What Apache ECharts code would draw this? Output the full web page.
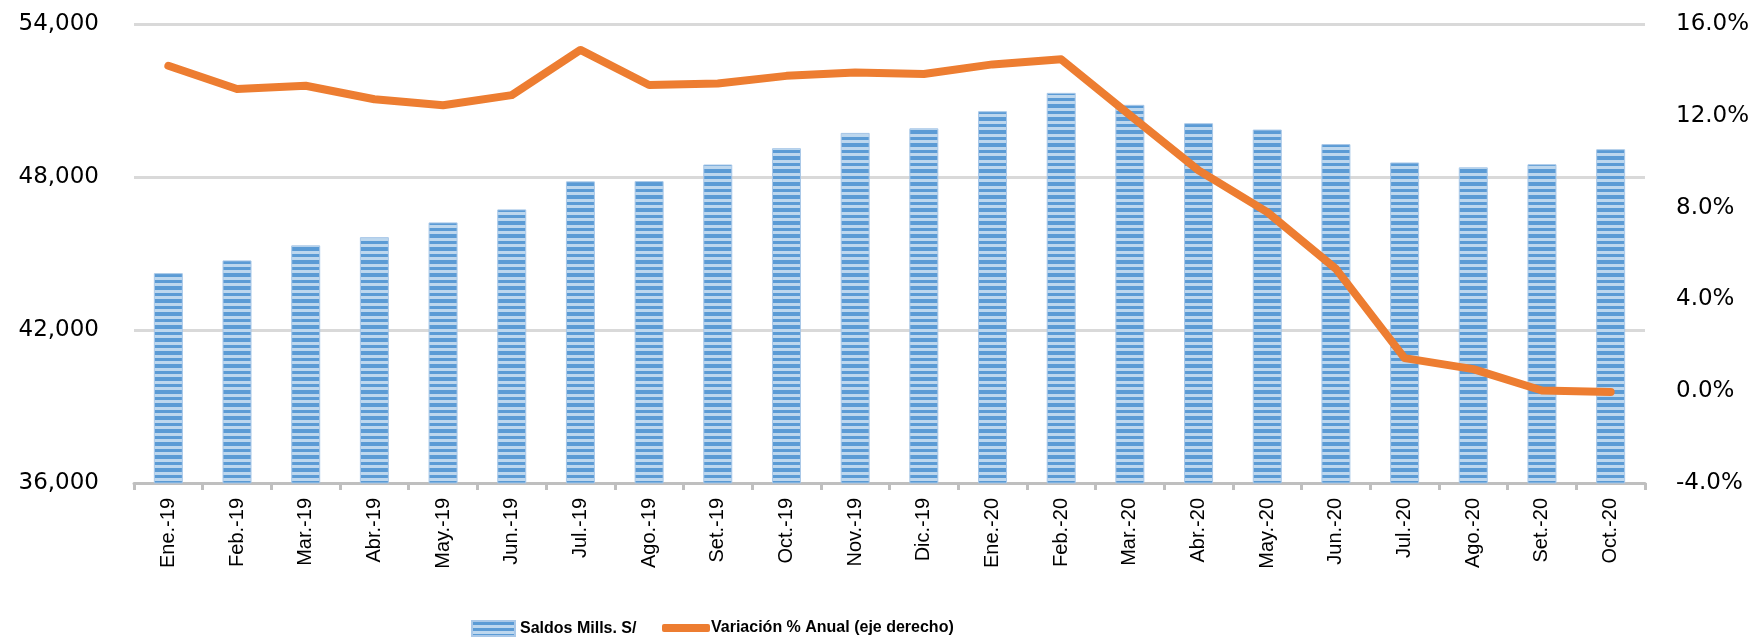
<!DOCTYPE html>
<html>
<head>
<meta charset="utf-8">
<title>Saldos y variación anual</title>
<script src="https://cdn.jsdelivr.net/npm/echarts@6/dist/echarts.min.js"></script>
<style>
    html, body { margin: 0; padding: 0; background: #fff; }
    #main { width: 1753px; height: 639px; }
</style>
</head>
<body>
<div id="main"></div>
<script>
    // meses
    var categorias = ['Ene.-19','Feb.-19','Mar.-19','Abr.-19','May.-19','Jun.-19','Jul.-19','Ago.-19','Set.-19','Oct.-19','Nov.-19','Dic.-19',
                      'Ene.-20','Feb.-20','Mar.-20','Abr.-20','May.-20','Jun.-20','Jul.-20','Ago.-20','Set.-20','Oct.-20'];
    // saldos en millones de soles (eje izquierdo)
    var saldos = [44230, 44730, 45320, 45640, 46220, 46730, 47830, 47840, 48490, 49130, 49730, 49910,
                  50580, 51300, 50830, 50110, 49860, 49290, 48570, 48380, 48500, 49090];
    // variacion % anual (eje derecho)
    var variacion = [14.18, 13.17, 13.31, 12.72, 12.46, 12.90, 14.87, 13.34, 13.41, 13.74, 13.89, 13.82,
                     14.24, 14.46, 12.03, 9.62, 7.80, 5.33, 1.44, 0.96, 0.03, -0.03];
    var nombres = ['Saldos Mills. S/', 'Variación % Anual (eje derecho)'];

    // textura de rayas horizontales para las barras
    function rayas() {
        var c = document.createElement('canvas');
        c.width = 4; c.height = 13;
        var ctx = c.getContext('2d');
        ctx.fillStyle = '#bdd7ee';
        ctx.fillRect(0, 0, 4, 13);
        ctx.fillStyle = '#5b9bd5';
        ctx.fillRect(0, 0, 4, 4);
        ctx.fillRect(0, 7, 4, 3);
        return c;
    }

    var textoLeyenda = {
        fontFamily: 'Liberation Sans',
        fontWeight: 'bold',
        fontSize: 16,
        color: '#000'
    };

    var myChart = echarts.init(document.getElementById('main'));
    var option = {
        animation: false,
        textStyle: { fontFamily: 'DejaVu Sans' },
        grid: { left: 134, right: 108, top: 24, bottom: 156 },
        // dos leyendas para tener iconos de distinto alto
        legend: [
            {
                left: 466,
                top: 615,
                itemWidth: 43,
                itemHeight: 15,
                itemGap: 5,
                textStyle: textoLeyenda,
                data: [{ name: nombres[0], icon: 'rect' }]
            },
            {
                left: 657,
                top: 615,
                itemWidth: 48,
                itemHeight: 8,
                itemGap: 1,
                textStyle: Object.assign({ padding: [0, 0, 0, -4] }, textoLeyenda),
                data: [{ name: nombres[1], icon: 'roundRect' }]
            }
        ],
        xAxis: {
            type: 'category',
            data: categorias,
            axisLine: { onZero: false, lineStyle: { color: '#bfbfbf', width: 3 } },
            axisTick: { show: true, length: 7, lineStyle: { color: '#bfbfbf', width: 3 } },
            axisLabel: {
                rotate: 90,
                interval: 0,
                margin: 15,
                fontFamily: 'Liberation Sans',
                fontSize: 20,
                color: '#000'
            }
        },
        yAxis: [
            {
                type: 'value',
                min: 36000,
                max: 54000,
                interval: 6000,
                axisLine: { show: false },
                axisTick: { show: false },
                splitLine: { lineStyle: { color: '#d9d9d9', width: 3 } },
                axisLabel: {
                    margin: 35,
                    fontSize: 23,
                    color: '#000',
                    formatter: function (v) { return v.toLocaleString('en-US'); }
                }
            },
            {
                type: 'value',
                min: -4,
                max: 16,
                interval: 4,
                axisLine: { show: false },
                axisTick: { show: false },
                splitLine: { show: false },
                axisLabel: {
                    margin: 31,
                    fontSize: 23,
                    color: '#000',
                    formatter: function (v) { return v.toFixed(1) + '%'; }
                }
            }
        ],
        series: [
            {
                name: nombres[0],
                type: 'bar',
                barWidth: 29,
                data: saldos,
                itemStyle: {
                    color: { image: rayas(), repeat: 'repeat' },
                    borderColor: '#a9c8e8',
                    borderWidth: 1
                }
            },
            {
                name: nombres[1],
                type: 'line',
                yAxisIndex: 1,
                data: variacion,
                symbol: 'none',
                lineStyle: { color: '#ed7d31', width: 8, cap: 'round', join: 'round' },
                itemStyle: { color: '#ed7d31' }
            }
        ]
    };
    myChart.setOption(option);
</script>
</body>
</html>
